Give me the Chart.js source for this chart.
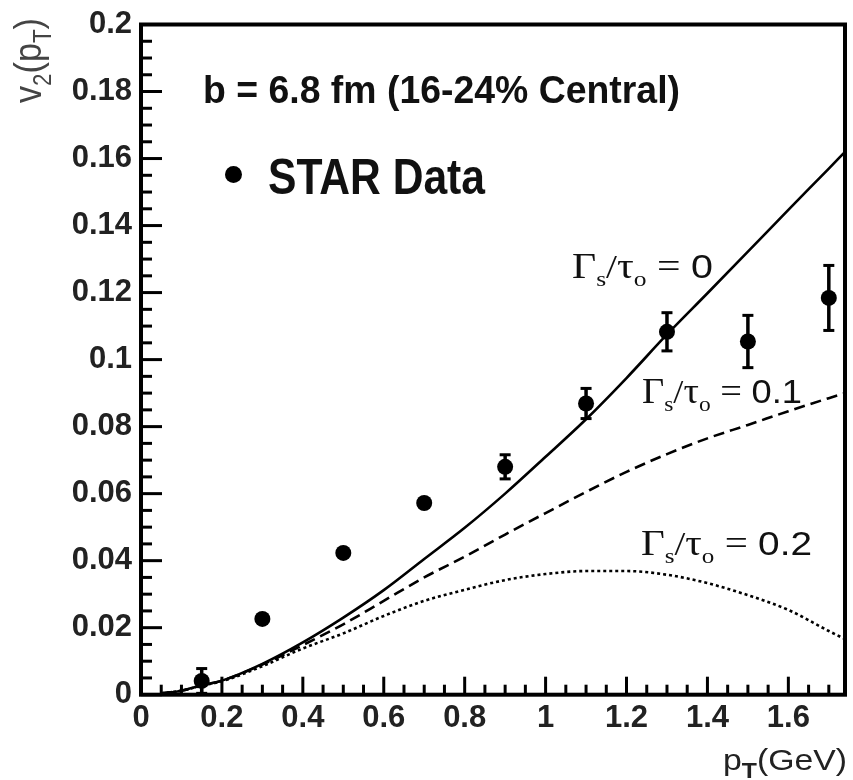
<!DOCTYPE html>
<html><head><meta charset="utf-8">
<script src="https://cdn.jsdelivr.net/npm/chart.js@4.4.1/dist/chart.umd.min.js"></script>
<style>html,body{margin:0;padding:0;background:#fff;}#wrap{position:relative;width:853px;height:780px;}</style>
</head><body><div id="wrap"><canvas id="c" width="853" height="780"></canvas></div>
<script>
// STAR data (pT in GeV, v2, error)
const ptData = [0.15, 0.3, 0.5, 0.7, 0.9, 1.1, 1.3, 1.5, 1.7];
const v2Data = [0.0041, 0.0226, 0.0423, 0.0572, 0.0680, 0.0869, 0.1083, 0.1054, 0.1184];
const v2Err  = [0.0037, 0.0010, 0.0010, 0.0010, 0.0036, 0.0045, 0.0057, 0.0078, 0.0097];
// hydro curves
const curvePt   = [0.05, 0.1, 0.15, 0.2, 0.3, 0.4, 0.5, 0.6, 0.7, 0.8, 0.9, 1.0, 1.1, 1.2, 1.3, 1.4, 1.5, 1.6, 1.7, 1.74];
const v2Gamma0  = [0.0004, 0.0012, 0.0028, 0.0042, 0.0092, 0.0156, 0.0230, 0.0312, 0.0405, 0.0498, 0.0600, 0.0710, 0.0822, 0.0945, 0.1075, 0.1198, 0.1322, 0.1447, 0.1570, 0.1620];
const v2Gamma01 = [0.0004, 0.0012, 0.0028, 0.0042, 0.0090, 0.0148, 0.0210, 0.0280, 0.0350, 0.0412, 0.0478, 0.0542, 0.0605, 0.0665, 0.0718, 0.0765, 0.0805, 0.0846, 0.0885, 0.0900];
const v2Gamma02 = [0.0004, 0.0012, 0.0027, 0.0040, 0.0085, 0.0138, 0.0183, 0.0235, 0.0280, 0.0313, 0.0342, 0.0360, 0.0369, 0.0369, 0.0358, 0.0333, 0.0297, 0.0253, 0.0190, 0.0166];
// ticks
const xTickValues = [0, 0.2, 0.4, 0.6, 0.8, 1.0, 1.2, 1.4, 1.6];
const xTickLabels = ['0', '0.2', '0.4', '0.6', '0.8', '1', '1.2', '1.4', '1.6'];
const yTickValues = [0, 0.02, 0.04, 0.06, 0.08, 0.1, 0.12, 0.14, 0.16, 0.18, 0.2];
const yTickLabels = ['0', '0.02', '0.04', '0.06', '0.08', '0.1', '0.12', '0.14', '0.16', '0.18', '0.2'];
const xMinorStep = 0.05, yMinorStep = 0.005;
// texts
const titleText = 'b = 6.8 fm (16-24% Central)';
const legendText = 'STAR Data';
const curveLabels = ['0', '0.1', '0.2'];

const SANS = '"Liberation Sans", Arial, sans-serif';
const SERIF = '"Liberation Serif", "Times New Roman", serif';

function drawSegs(ctx, segs, x, y, opt) {
  opt = opt || {};
  let W = 0;
  const ws = segs.map(s => { ctx.font = s.font; const w = ctx.measureText(s.t).width; W += w; return w; });
  const sx = opt.width ? opt.width / W : 1;
  const sy = opt.sy || 1;
  ctx.save();
  ctx.translate(x, y);
  if (opt.rot) ctx.rotate(opt.rot);
  ctx.scale(sx, sy);
  ctx.fillStyle = opt.color || '#000';
  ctx.textBaseline = 'alphabetic';
  ctx.textAlign = 'left';
  let cx = 0;
  segs.forEach((s, i) => { ctx.font = s.font; ctx.fillText(s.t, cx, s.dy || 0); cx += ws[i]; });
  ctx.restore();
}

function gammaSegs(val) {
  return [
    {t: 'Γ', font: '36px ' + SERIF},
    {t: 's', font: '22px ' + SERIF, dy: 8},
    {t: '/', font: '34px ' + SERIF},
    {t: 'τ', font: '36px ' + SERIF},
    {t: 'o', font: '22px ' + SERIF, dy: 8},
    {t: ' = ', font: '36px ' + SERIF},
    {t: val, font: '34px ' + SANS}
  ];
}

const decorPlugin = {
  id: 'decor',
  afterDatasetsDraw(chart) {
    const ctx = chart.ctx, xs = chart.scales.x, ys = chart.scales.y, a = chart.chartArea;
    ctx.save();
    ctx.strokeStyle = '#000';
    ctx.fillStyle = '#000';
    // error bars
    ctx.lineWidth = 3.5;
    ptData.forEach((p, i) => {
      const px = xs.getPixelForValue(p);
      const yt = ys.getPixelForValue(v2Data[i] + v2Err[i]);
      const yb = ys.getPixelForValue(v2Data[i] - v2Err[i]);
      ctx.beginPath(); ctx.moveTo(px, yt); ctx.lineTo(px, yb); ctx.stroke();
      ctx.fillRect(px - 5.5, yt - 1.5, 11, 3);
      ctx.fillRect(px - 5.5, yb - 1.5, 11, 3);
    });
    // inner ticks
    ctx.lineWidth = 3;
    for (let v = 0; v <= 1.7401; v += xMinorStep) {
      const px = xs.getPixelForValue(v);
      const major = xTickValues.some(t => Math.abs(t - v) < 1e-6);
      const len = major ? 18 : 10;
      ctx.beginPath(); ctx.moveTo(px, a.bottom); ctx.lineTo(px, a.bottom - len); ctx.stroke();
    }
    for (let v = 0; v <= 0.2001; v += yMinorStep) {
      const py = ys.getPixelForValue(v);
      const major = yTickValues.some(t => Math.abs(t - v) < 1e-6);
      const len = major ? 21 : 11;
      ctx.beginPath(); ctx.moveTo(a.left, py); ctx.lineTo(a.left + len, py); ctx.stroke();
    }
    // frame
    ctx.lineWidth = 4;
    ctx.strokeRect(a.left, a.top, a.right - a.left, a.bottom - a.top);
    ctx.restore();

    // texts
    drawSegs(ctx, [{t: titleText, font: 'bold 37px ' + SANS}], 203, 103, {width: 477, sy: 1.04, color: '#111'});
    ctx.save();
    ctx.fillStyle = '#000';
    ctx.beginPath(); ctx.arc(233.5, 174.5, 8.5, 0, Math.PI * 2); ctx.fill();
    ctx.restore();
    drawSegs(ctx, [{t: legendText, font: 'bold 42px ' + SANS}], 268, 194, {width: 217, sy: 1.2, color: '#111'});
    drawSegs(ctx, gammaSegs(curveLabels[0]), 572, 278, {width: 141, color: '#111'});
    drawSegs(ctx, gammaSegs(curveLabels[1]), 642, 403, {width: 160, color: '#111'});
    drawSegs(ctx, gammaSegs(curveLabels[2]), 641, 555, {width: 171, color: '#111'});
    // axis titles
    drawSegs(ctx, [
      {t: 'p', font: '30px ' + SANS},
      {t: 'T', font: 'bold 22px ' + SANS, dy: 8},
      {t: '(GeV)', font: '30px ' + SANS}
    ], 723, 770, {width: 124, color: '#222'});
    drawSegs(ctx, [
      {t: 'v', font: '32px ' + SANS},
      {t: '2', font: '21px ' + SANS, dy: 8},
      {t: '(p', font: '32px ' + SANS},
      {t: 'T', font: '21px ' + SANS, dy: 8},
      {t: ')', font: '32px ' + SANS}
    ], 41, 103, {width: 85, sy: 1.2, rot: -Math.PI / 2, color: '#444'});
  }
};

const tickFont = {family: SANS, size: 31, weight: 'bold', lineHeight: 1};
const lineBase = {showLine: true, pointRadius: 0, pointHoverRadius: 0, borderColor: '#000', borderWidth: 2.6, fill: false, cubicInterpolationMode: 'monotone'};

new Chart(document.getElementById('c'), {
  type: 'scatter',
  data: {
    datasets: [
      Object.assign({label: 'Γs/τo = 0', data: curvePt.map((x, i) => ({x, y: v2Gamma0[i]}))}, lineBase),
      Object.assign({label: 'Γs/τo = 0.1', data: curvePt.map((x, i) => ({x, y: v2Gamma01[i]})), borderDash: [11, 6]}, lineBase),
      Object.assign({label: 'Γs/τo = 0.2', data: curvePt.map((x, i) => ({x, y: v2Gamma02[i]})), borderDash: [3, 3]}, lineBase),
      {label: 'STAR Data', data: ptData.map((x, i) => ({x, y: v2Data[i]})), pointRadius: 8, pointHoverRadius: 8, backgroundColor: '#000', borderWidth: 0, showLine: false}
    ]
  },
  options: {
    responsive: false,
    animation: false,
    devicePixelRatio: 1,
    events: [],
    layout: {padding: {top: 17, right: 4.5, left: 0, bottom: 0}},
    plugins: {legend: {display: false}, tooltip: {enabled: false}, title: {display: false}},
    scales: {
      x: {
        type: 'linear', min: 0, max: 1.74, position: 'bottom',
        grid: {display: false, drawTicks: false}, border: {display: false},
        ticks: {font: tickFont, color: '#222', padding: 8, autoSkip: false, maxRotation: 0,
          callback: (v) => { const i = xTickValues.findIndex(t => Math.abs(t - v) < 1e-6); return i >= 0 ? xTickLabels[i] : ''; }},
        afterBuildTicks: (s) => { s.ticks = xTickValues.map(v => ({value: v})); },
        afterFit: (s) => { s.height = 780 - 694.7; }
      },
      y: {
        type: 'linear', min: 0, max: 0.2, position: 'left',
        grid: {display: false, drawTicks: false}, border: {display: false},
        ticks: {font: tickFont, color: '#222', padding: 9, autoSkip: false,
          callback: (v) => { const i = yTickValues.findIndex(t => Math.abs(t - v) < 1e-6); return i >= 0 ? yTickLabels[i] : ''; }},
        afterBuildTicks: (s) => { s.ticks = yTickValues.map(v => ({value: v})); },
        afterFit: (s) => { s.width = 141; }
      }
    }
  },
  plugins: [decorPlugin]
});
</script></body></html>
